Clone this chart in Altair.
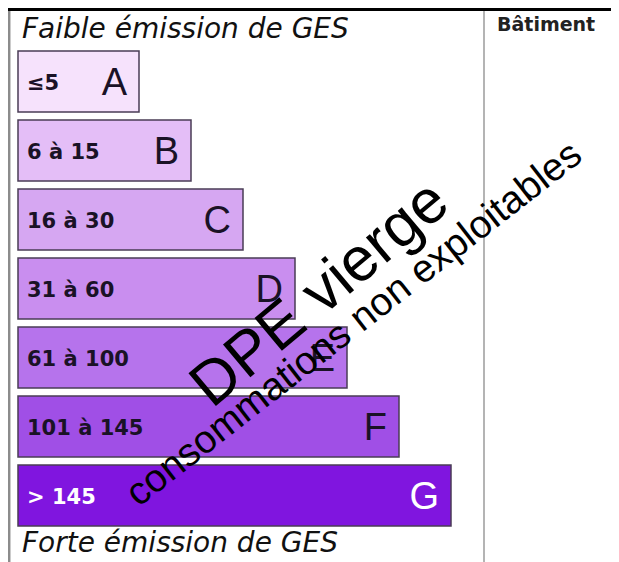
import altair as alt
import pandas as pd

# ---- data ----
classes = ["A", "B", "C", "D", "E", "F", "G"]
ranges = ["≤5", "6 à 15", "16 à 30", "31 à 60", "61 à 100", "101 à 145", "> 145"]
ranks = [1, 2, 3, 4, 5, 6, 7]
fill_colors = ["#f6e2fc", "#e4bef7", "#d6a7f2", "#c98eef", "#b673ec", "#a04fe6", "#8015df"]
text_colors = ["#1a1226", "#1a1226", "#1a1226", "#1a1226", "#1a1226", "#1a1226", "#ffffff"]
top_label = "Faible émission de GES"
bottom_label = "Forte émission de GES"
column_label = "Bâtiment"
watermark_main = "DPE vierge"
watermark_sub = "consommations non exploitables"

BAR_BASE = -69 / 52

df = pd.DataFrame({
    "classe": classes,
    "plage": ranges,
    "rang": ranks,
    "debut": [BAR_BASE] * len(classes),
    "fill": fill_colors,
    "tcol": text_colors,
})

W, H = 603, 554
x_scale = alt.Scale(domain=[-79 / 52, (W - 79) / 52], range=[0, W], nice=False, zero=False)
y_scale = alt.Scale(domain=classes, range=[43, 518], paddingInner=8 / 69, paddingOuter=0)

base = alt.Chart(df)

bars = base.mark_bar(stroke="#4a3d55", strokeWidth=1.5).encode(
    x=alt.X("rang:Q", scale=x_scale, axis=None),
    x2=alt.X2("debut:Q"),
    y=alt.Y("classe:N", scale=y_scale, axis=None),
    fill=alt.Fill("fill:N", scale=None, legend=None),
)

range_text = base.mark_text(
    align="left", baseline="middle", font="DejaVu Sans", fontWeight="bold", fontSize=21, dx=9, dy=2
).encode(
    x=alt.X("debut:Q", scale=x_scale, axis=None),
    y=alt.Y("classe:N", scale=y_scale, axis=None),
    text="plage:N",
    color=alt.Color("tcol:N", scale=None, legend=None),
)

letter_text = base.mark_text(
    align="right", baseline="middle", font="Liberation Sans", fontSize=38, dx=-12, dy=2
).encode(
    x=alt.X("rang:Q", scale=x_scale, axis=None),
    y=alt.Y("classe:N", scale=y_scale, axis=None),
    text="classe:N",
    color=alt.Color("tcol:N", scale=None, legend=None),
)

frame = pd.DataFrame({"k": [0]})
top_rule = alt.Chart(frame).mark_rule(color="#000000", strokeWidth=3).encode(
    x=alt.value(0), x2=alt.value(W), y=alt.value(1.5)
)
left_rule = alt.Chart(frame).mark_rule(color="#8c8c8c", strokeWidth=2.5).encode(
    x=alt.value(1.2), y=alt.value(3), y2=alt.value(H)
)
div_rule = alt.Chart(frame).mark_rule(color="#b4b4b4", strokeWidth=2).encode(
    x=alt.value(476), y=alt.value(3), y2=alt.value(H)
)

top_txt = alt.Chart(frame).mark_text(
    text=top_label, align="left", baseline="alphabetic", font="DejaVu Sans", fontStyle="italic",
    fontSize=28, color="#111111"
).encode(x=alt.value(14), y=alt.value(30))

bottom_txt = alt.Chart(frame).mark_text(
    text=bottom_label, align="left", baseline="alphabetic", font="DejaVu Sans", fontStyle="italic",
    fontSize=28, color="#111111"
).encode(x=alt.value(14), y=alt.value(544))

col_txt = alt.Chart(frame).mark_text(
    text=column_label, align="left", baseline="alphabetic", font="DejaVu Sans", fontWeight="bold",
    fontSize=19, color="#222222"
).encode(x=alt.value(489), y=alt.value(23))

wm1 = alt.Chart(frame).mark_text(
    text=watermark_main, align="center", baseline="middle", font="Liberation Sans",
    fontSize=62, angle=320, color="#000000"
).encode(x=alt.value(312), y=alt.value(286))

wm2 = alt.Chart(frame).mark_text(
    text=watermark_sub, align="center", baseline="middle", font="Liberation Sans",
    fontSize=39, angle=322, color="#000000"
).encode(x=alt.value(346), y=alt.value(316))

chart = alt.layer(
    bars, range_text, letter_text, top_rule, left_rule, div_rule,
    top_txt, bottom_txt, col_txt, wm1, wm2
).properties(
    width=W, height=H, padding=0, autosize="none", background="#ffffff"
).configure_view(strokeWidth=0)

chart.save("out.html", embed_options={"renderer": "svg", "actions": False})
